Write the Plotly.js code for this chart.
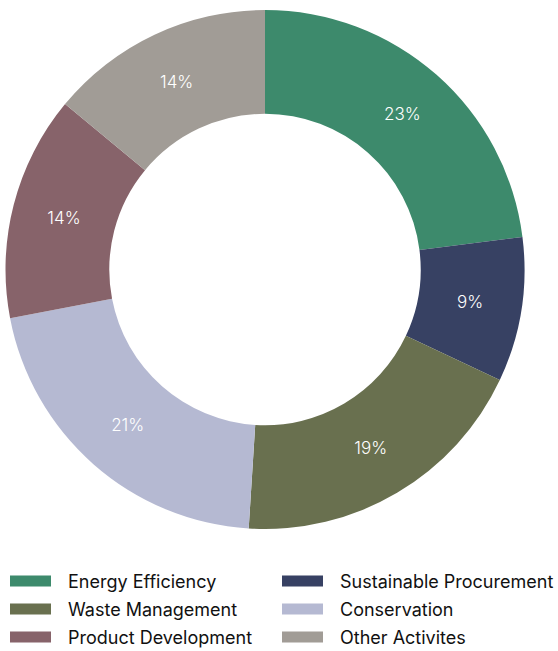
<!DOCTYPE html>
<html>
<head>
<meta charset="utf-8">
<script src="https://cdn.plot.ly/plotly-3.0.1.min.js"></script>
<style>html,body{margin:0;padding:0;background:#fff}#chart{width:558px;height:651px}</style>
</head>
<body>
<div id="chart"></div>
<script>
const categories = ["Energy Efficiency", "Sustainable Procurement", "Waste Management", "Conservation", "Product Development", "Other Activites"];
const values = [23, 9, 19, 21, 14, 14];
const colors = ["#3d8a6c", "#374163", "#69704f", "#b5b9d2", "#87636a", "#a19c96"];

const W = 558, H = 651;
const FONT = "Inter, 'Noto Sans', sans-serif";

const trace = {
  type: "pie",
  labels: categories,
  values: values,
  sort: false,
  direction: "clockwise",
  rotation: 0,
  hole: 0.6,
  marker: {colors: colors, line: {width: 0}},
  textinfo: "percent",
  texttemplate: "%{percent:.0%}",
  textposition: "inside",
  insidetextorientation: "horizontal",
  textfont: {family: FONT, size: 17, color: "#ffffff", weight: 300},
  domain: {x: [5 / W, 525 / W], y: [1 - 529 / H, 1 - 10 / H]},
  showlegend: false,
  hoverinfo: "label+percent"
};

// manual legend: two columns, filled row by row
const shapes = [];
const annotations = [];
const colX = [10, 282];
const rowY = [581, 609, 637];
categories.forEach((c, i) => {
  const col = i % 2, row = Math.floor(i / 2);
  const x0 = colX[col], yc = rowY[row];
  shapes.push({
    type: "rect", xref: "paper", yref: "paper",
    x0: x0 / W, x1: (x0 + 41) / W,
    y0: 1 - (yc + 5.5) / H, y1: 1 - (yc - 5.5) / H,
    fillcolor: colors[i], line: {width: 0}
  });
  annotations.push({
    xref: "paper", yref: "paper",
    x: (x0 + 56) / W, y: 1 - yc / H,
    xanchor: "left", yanchor: "middle",
    text: c, showarrow: false,
    font: {family: FONT, size: 18, color: "#111111"}
  });
});

const layout = {
  width: W, height: H,
  margin: {l: 0, r: 0, t: 0, b: 0},
  paper_bgcolor: "#ffffff",
  showlegend: false,
  shapes: shapes,
  annotations: annotations
};

Plotly.newPlot("chart", [trace], layout, {displayModeBar: false, staticPlot: true});
</script>
</body>
</html>
